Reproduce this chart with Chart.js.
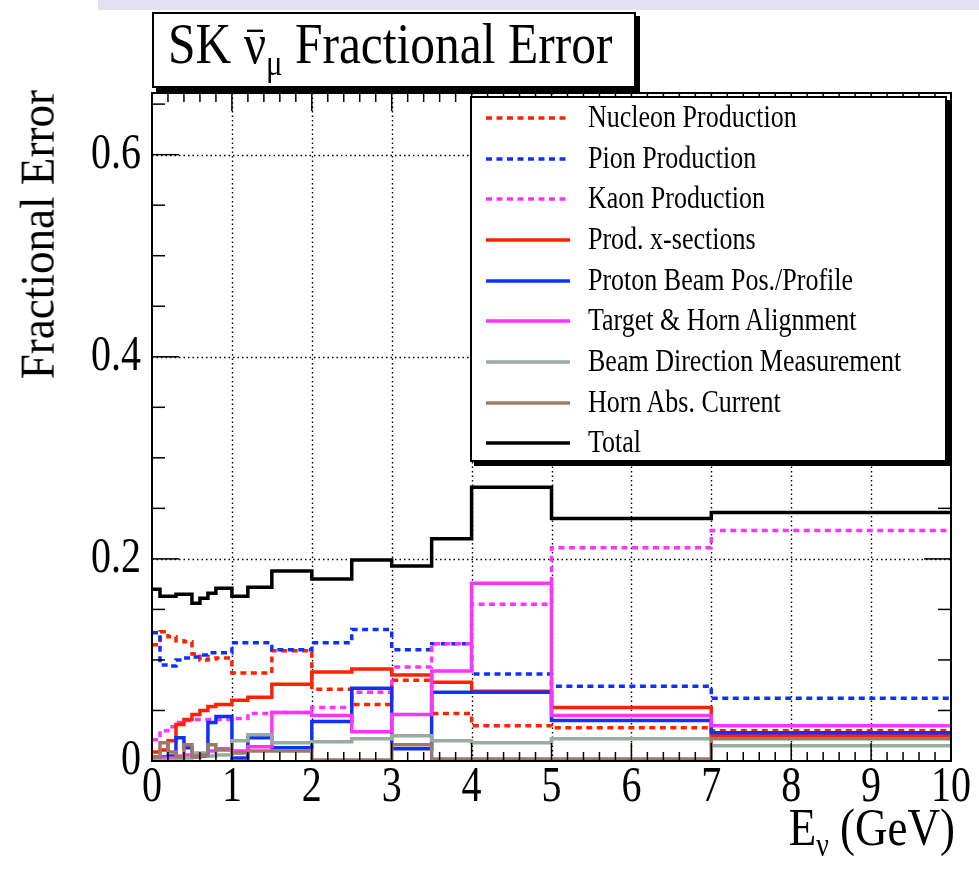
<!DOCTYPE html>
<html>
<head>
<meta charset="utf-8">
<title>SK anti-numu fractional error</title>
<script src="https://cdn.jsdelivr.net/npm/chart.js@4.4.1/dist/chart.umd.min.js"></script>
<style>
  html, body { margin: 0; padding: 0; background: #fff; }
  #wrap { position: relative; width: 979px; height: 874px; overflow: hidden;
          font-family: 'Liberation Serif', 'Times New Roman', serif; color: #000; }
  #band { position: absolute; left: 98px; top: 0; width: 881px; height: 10px; background: #e3e1f1; }
  #chart { position: absolute; left: 0; top: 0; }
  .box { position: absolute; background: #fff; border: 2px solid #000; box-shadow: 4px 4px 0 #000; box-sizing: border-box; }
  #title { left: 152px; top: 12px; width: 484px; height: 76px; }
  #title .t { position: absolute; left: 14px; top: 5px; font-size: 49.5px; line-height: 56px; white-space: nowrap;
              transform: scaleY(1.15); transform-origin: 0 44px; }
  .nu { position: relative; }
  .nu::after { content: ''; position: absolute; left: 0.06em; right: 0.06em; top: 0.3em; border-top: 0.05em solid #000; }
  .sub { font-size: 0.62em; position: relative; top: 0.32em; }
  #legend { left: 470px; top: 96px; width: 477px; height: 366px; }
  .row { position: absolute; left: 14px; height: 40px; display: flex; align-items: center; white-space: nowrap; font-size: 26px; }
  .row svg { width: 84px; height: 6px; margin-right: 18px; }
  .row span { display: inline-block; transform: scaleY(1.18); }
  #ytitle { position: absolute; left: 13px; top: 500px; width: 400px; text-align: right; font-size: 44px; line-height: 44px;
            transform: rotate(-90deg) scale(1.025, 1.12); transform-origin: 0 0; white-space: nowrap; }
  #xtitle { position: absolute; right: 24px; top: 808px; font-size: 45px; line-height: 44px; white-space: nowrap;
            transform: scaleY(1.18); transform-origin: 100% 37px; }
</style>
</head>
<body>
<div id="wrap">
  <div id="band"></div>
  <canvas id="chart" width="979" height="874"></canvas>
  <div id="title" class="box"><div class="t">SK <span class="nu">ν</span><span class="sub">μ</span> Fractional Error</div></div>
  <div id="legend" class="box"></div>
  <div id="ytitle">Fractional Error</div>
  <div id="xtitle">E<span class="sub">ν</span> (GeV)</div>
</div>
<script>
// bin edges in GeV (19 bins)
const edges = [0, 0.1, 0.2, 0.3, 0.4, 0.5, 0.6, 0.7, 0.8, 1.0, 1.2, 1.5, 2.0, 2.5, 3.0, 3.5, 4.0, 5.0, 7.0, 10.0];

// fractional error per bin
const nucleon     = [0.115, 0.128, 0.123, 0.119, 0.118, 0.106, 0.100, 0.101, 0.102, 0.087, 0.087, 0.109, 0.071, 0.056, 0.080, 0.047, 0.035, 0.033, 0.030];
const pion        = [0.127, 0.095, 0.094, 0.100, 0.102, 0.103, 0.105, 0.107, 0.107, 0.117, 0.117, 0.110, 0.117, 0.130, 0.110, 0.116, 0.086, 0.074, 0.062];
const kaon        = [0.021, 0.030, 0.034, 0.038, 0.040, 0.041, 0.041, 0.041, 0.041, 0.042, 0.047, 0.048, 0.053, 0.068, 0.093, 0.116, 0.155, 0.211, 0.228];
const prodXsec    = [0.009, 0.011, 0.020, 0.036, 0.041, 0.046, 0.050, 0.054, 0.056, 0.060, 0.063, 0.076, 0.088, 0.091, 0.085, 0.078, 0.069, 0.053, 0.025];
const protonBeam  = [0.004, 0.004, 0.005, 0.023, 0.013, 0.006, 0.005, 0.038, 0.044, 0.003, 0.023, 0.013, 0.039, 0.072, 0.012, 0.068, 0.068, 0.040, 0.028];
const targetHorn  = [0.004, 0.003, 0.003, 0.005, 0.006, 0.004, 0.006, 0.010, 0.012, 0.010, 0.014, 0.048, 0.045, 0.029, 0.046, 0.089, 0.176, 0.045, 0.035];
const beamDir     = [0.001, 0.001, 0.001, 0.002, 0.003, 0.008, 0.008, 0.005, 0.006, 0.020, 0.026, 0.018, 0.019, 0.022, 0.025, 0.020, 0.018, 0.022, 0.015];
const hornCurrent = [0.004, 0.018, 0.009, 0.004, 0.016, 0.004, 0.006, 0.016, 0.011, 0.008, 0.010, 0.010, 0.001, 0.001, 0.016, 0.002, 0.002, 0.002, 0.022];
const total       = [0.170, 0.163, 0.163, 0.165, 0.165, 0.156, 0.161, 0.166, 0.171, 0.163, 0.172, 0.188, 0.180, 0.199, 0.193, 0.220, 0.271, 0.240, 0.246];

const seriesNames = ['Nucleon Production', 'Pion Production', 'Kaon Production', 'Prod. x-sections',
  'Proton Beam Pos./Profile', 'Target & Horn Alignment', 'Beam Direction Measurement', 'Horn Abs. Current', 'Total'];
const seriesData = [nucleon, pion, kaon, prodXsec, protonBeam, targetHorn, beamDir, hornCurrent, total];

const xTicks = [0, 1, 2, 3, 4, 5, 6, 7, 8, 9, 10];
const yTicks = [0, 0.2, 0.4, 0.6];
const yTickLabels = ['0', '0.2', '0.4', '0.6'];

const colors = ['#ff2200', '#1030ff', '#ff33ff', '#ff2200', '#1030ff', '#ff33ff', '#98aca0', '#a07868', '#000000'];
const dashed = [true, true, true, false, false, false, false, false, false];
const DASH = [6, 4.5];

// histogram outline: one point per lower edge plus the last upper edge
function histPoints(vals) {
  const pts = vals.map((v, i) => ({ x: edges[i], y: v }));
  pts.push({ x: edges[edges.length - 1], y: vals[vals.length - 1] });
  return pts;
}

const datasets = seriesData.map((vals, i) => ({
  label: seriesNames[i],
  data: histPoints(vals),
  borderColor: colors[i],
  borderWidth: 3.5,
  borderDash: dashed[i] ? DASH : [],
  borderCapStyle: 'butt',
  stepped: 'before',
  pointRadius: 0,
  fill: false,
  order: seriesData.length - i
}));

function seg(ctx, x1, y1, x2, y2) {
  ctx.beginPath(); ctx.moveTo(x1, y1); ctx.lineTo(x2, y2); ctx.stroke();
}

// stretched serif label, like the ROOT output
function label(ctx, text, px, py, align) {
  ctx.save();
  ctx.translate(px, py);
  ctx.scale(1, 1.28);
  ctx.textAlign = align;
  ctx.fillText(text, 0, 0);
  ctx.restore();
}

const framePlugin = {
  id: 'frame',
  beforeDatasetsDraw(chart) {
    const { ctx, chartArea: a, scales: { x, y } } = chart;
    ctx.save();
    ctx.strokeStyle = '#000';
    ctx.lineWidth = 1.4;
    ctx.setLineDash([1.5, 3]);
    xTicks.slice(1, -1).forEach(v => {
      const px = Math.round(x.getPixelForValue(v)) + 0.5;
      seg(ctx, px, a.top, px, a.bottom);
    });
    yTicks.slice(1).forEach(v => {
      const py = Math.round(y.getPixelForValue(v)) + 0.5;
      seg(ctx, a.left, py, a.right, py);
    });
    ctx.restore();
  },
  afterDatasetsDraw(chart) {
    const { ctx, chartArea: a, scales: { x, y } } = chart;
    ctx.save();
    ctx.strokeStyle = '#000';
    ctx.lineWidth = 1.5;
    // x ticks every 0.2, longer on integers
    for (let k = 0; k <= 50; k++) {
      const px = x.getPixelForValue(k * 0.2);
      const len = k % 5 === 0 ? 18 : 9;
      seg(ctx, px, a.bottom, px, a.bottom - len);
      seg(ctx, px, a.top, px, a.top + len);
    }
    // y ticks every 0.05, longer on multiples of 0.2
    for (let k = 0; k * 0.05 <= y.max; k++) {
      const py = y.getPixelForValue(k * 0.05);
      const len = k % 4 === 0 ? 27 : 13;
      seg(ctx, a.left, py, a.left + len, py);
      seg(ctx, a.right, py, a.right - len, py);
    }
    ctx.lineWidth = 2;
    ctx.strokeRect(a.left, a.top, a.right - a.left, a.bottom - a.top);

    // tick labels
    ctx.fillStyle = '#000';
    ctx.font = "40px 'Liberation Serif', 'Times New Roman', serif";
    ctx.textBaseline = 'middle';
    xTicks.forEach(v => label(ctx, String(v), x.getPixelForValue(v), a.bottom + 27, 'center'));
    yTicks.forEach((v, i) => label(ctx, yTickLabels[i], a.left - 11, y.getPixelForValue(v), 'right'));
    ctx.restore();
  }
};

new Chart(document.getElementById('chart'), {
  type: 'line',
  data: { datasets: datasets },
  options: {
    responsive: false,
    animation: false,
    devicePixelRatio: 1,
    events: [],
    layout: { padding: { left: 0, top: 93, right: 28, bottom: 0 } },
    plugins: { legend: { display: false }, tooltip: { enabled: false }, title: { display: false } },
    scales: {
      x: {
        type: 'linear', min: 0, max: 10,
        grid: { display: false, drawTicks: false },
        border: { display: false },
        ticks: { display: false, stepSize: 1 },
        afterFit: s => { s.height = 113; }
      },
      y: {
        type: 'linear', min: 0, max: 0.661,
        grid: { display: false, drawTicks: false },
        border: { display: false },
        ticks: { display: false, stepSize: 0.2 },
        afterFit: s => { s.width = 152; }
      }
    }
  },
  plugins: [framePlugin]
});

// legend box
const legend = document.getElementById('legend');
const rowCenters = [118, 158.5, 199, 240, 281, 321, 362, 403, 443];
seriesNames.forEach((name, i) => {
  const row = document.createElement('div');
  row.className = 'row';
  row.style.top = (rowCenters[i] - 98 - 20) + 'px';
  const dash = dashed[i] ? ' stroke-dasharray="' + DASH.join(' ') + '"' : '';
  row.innerHTML = '<svg viewBox="0 0 84 6"><line x1="0" y1="3" x2="84" y2="3" stroke="' + colors[i] +
    '" stroke-width="3.5"' + dash + '/></svg>';
  const text = document.createElement('span');
  text.textContent = name;
  row.appendChild(text);
  legend.appendChild(row);
});
</script>
</body>
</html>
